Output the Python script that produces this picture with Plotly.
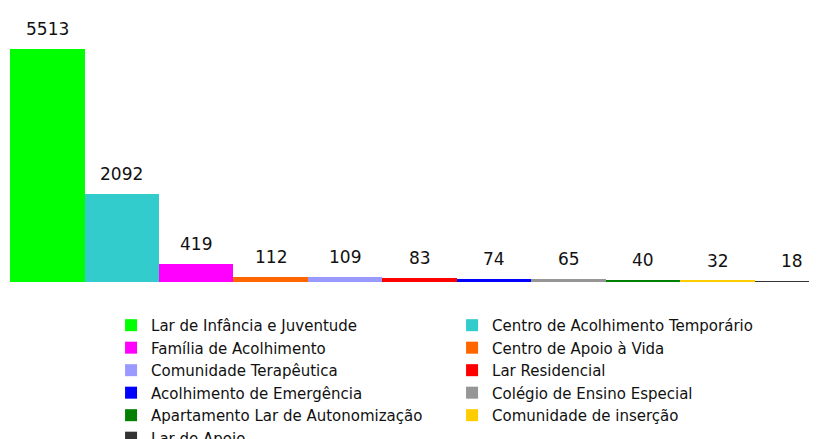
import plotly.graph_objects as go

# categories, values and colours
categories = ["Lar de Infância e Juventude", "Centro de Acolhimento Temporário",
              "Família de Acolhimento", "Centro de Apoio à Vida",
              "Comunidade Terapêutica", "Lar Residencial",
              "Acolhimento de Emergência", "Colégio de Ensino Especial",
              "Apartamento Lar de Autonomização", "Comunidade de inserção",
              "Lar de Apoio"]
values = [5513, 2092, 419, 112, 109, 83, 74, 65, 40, 32, 18]
colors = ["#00ff00", "#33cccc", "#ff00ff", "#ff6600", "#9999ff", "#ff0000",
          "#0000ff", "#969696", "#008000", "#ffcc00", "#333333"]

font = "DejaVu Sans"

fig = go.Figure()
for i, (name, val, col) in enumerate(zip(categories, values, colors)):
    fig.add_trace(go.Bar(x=[i], y=[val], name=name, width=1,
                         marker=dict(color=col, line=dict(width=0))))
    # value label above each bar
    fig.add_annotation(x=i, y=val, text=str(val), showarrow=False,
                       yanchor="bottom", yshift=8,
                       font=dict(family=font, size=17, color="#111111"))

fig.update_layout(
    width=817, height=439,
    margin=dict(l=2, r=0, t=2, b=165, autoexpand=False),
    paper_bgcolor="white", plot_bgcolor="white",
    barmode="overlay", bargap=0,
    showlegend=True,
    legend=dict(orientation="h", x=0.124, xanchor="left", y=-0.099, yanchor="top",
                entrywidth=296, entrywidthmode="pixels",
                font=dict(family=font, size=15, color="#111111"),
                traceorder="normal"),
    xaxis=dict(range=[-0.5, 10.44], visible=False),
    yaxis=dict(range=[0, 6435], visible=False),
)

fig.write_html("out.html")
